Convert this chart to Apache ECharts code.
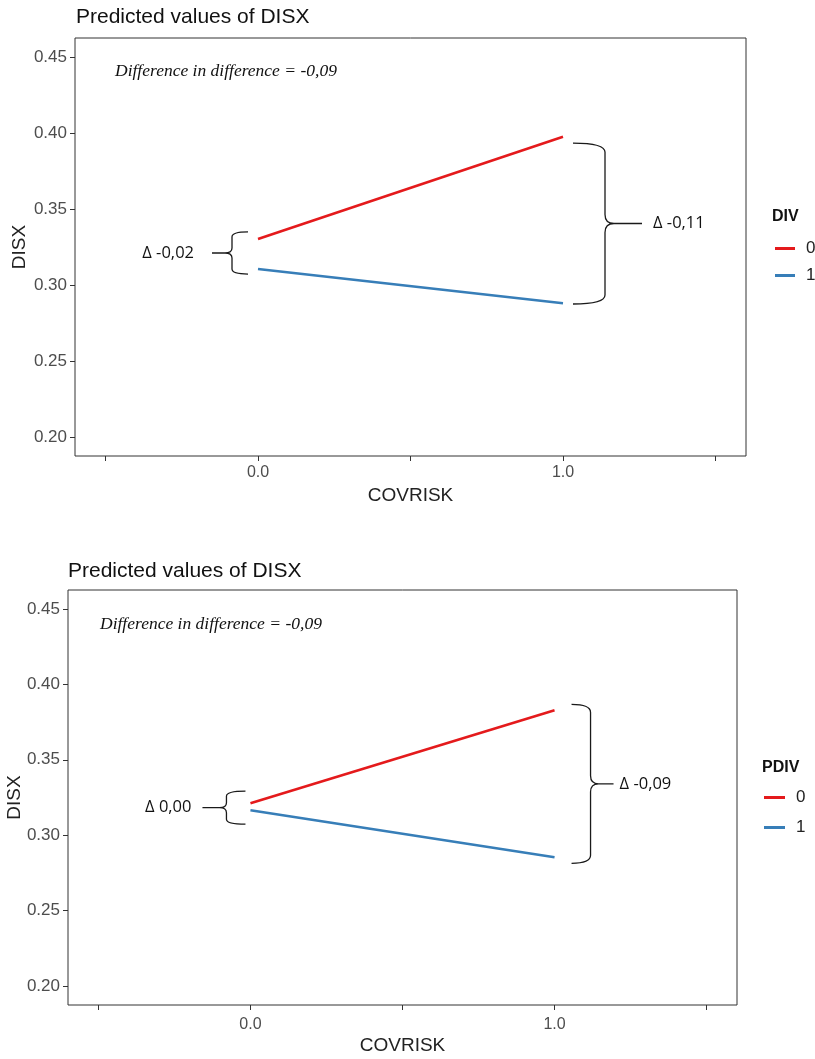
<!DOCTYPE html>
<html>
<head>
<meta charset="utf-8">
<script src="https://cdn.jsdelivr.net/npm/echarts@6/dist/echarts.min.js"></script>
<style>
html,body{margin:0;padding:0;background:#fff;}
#chart{width:815px;height:1059px;}
</style>
</head>
<body>
<div id="chart"></div>
<script>
// ---- data ----
const covrisk = [0, 1];
// top panel (DIV)
const div0 = [0.3302, 0.3975];
const div1 = [0.3105, 0.2880];
// bottom panel (PDIV)
const pdiv0 = [0.3212, 0.3828];
const pdiv1 = [0.3166, 0.2854];
const yTicks = [0.20, 0.25, 0.30, 0.35, 0.40, 0.45];
const xTicks = [-0.5, 0, 0.5, 1, 1.5];
const xLabelValues = [0, 1];
const seriesNames = ['0', '1'];
const legendTitles = ['DIV', 'PDIV'];
const panelTitle = 'Predicted values of DISX';
const diffText = 'Difference in difference = -0,09';
// braces: x position, top value, bottom value, label
const topBraceX = [0, 1];
const topBraceTop = [0.3349, 0.3934];
const topBraceBottom = [0.3072, 0.2875];
const topBraceLabel = ['Δ -0,02', 'Δ -0,11'];
const botBraceX = [0, 1];
const botBraceTop = [0.3292, 0.3867];
const botBraceBottom = [0.3073, 0.2814];
const botBraceLabel = ['Δ 0,00', 'Δ -0,09'];

// ---- style / geometry (pixels) ----
const braceGeom = {
  top: [
    {dir: -1, end: 10, spine: 26, tip: 46, gap: 18, r: 5, c: 7},
    {dir: 1, end: 10, spine: 42, tip: 79, gap: 11, r: 9, c: 9}
  ],
  bot: [
    {dir: -1, end: 5, spine: 24, tip: 48, gap: 11, r: 5, c: 7},
    {dir: 1, end: 17, spine: 36, tip: 59, gap: 6, r: 8, c: 8}
  ]
};
const RED = '#E41A1C', BLUE = '#377EB8';
const SANS = "'Liberation Sans', Arial, sans-serif";
const grids = [
  {left: 75, top: 38, width: 671, height: 418},
  {left: 68, top: 590, width: 669, height: 415}
];

function pairs(xs, ys) { return xs.map((x, i) => [x, ys[i]]); }
function braceData(xs, tops, bots) { return xs.map((x, i) => [x, tops[i], bots[i]]); }

function makeBraceRender(key, labels) {
  return function (params, api) {
    const g = braceGeom[key][params.dataIndex];
    const p1 = api.coord([api.value(0), api.value(1)]);
    const p2 = api.coord([api.value(0), api.value(2)]);
    const d = g.dir;
    const x0 = p1[0];
    const xe = x0 + d * g.end, xv = x0 + d * g.spine, xt = x0 + d * g.tip;
    const yt = p1[1], yb = p2[1], ym = (yt + yb) / 2;
    const r = g.r, c = g.c;
    const path =
      'M' + xe + ',' + yt +
      ' Q' + xv + ',' + yt + ' ' + xv + ',' + (yt + r) +
      ' L' + xv + ',' + (ym - r) +
      ' Q' + xv + ',' + ym + ' ' + (xv + d * c) + ',' + ym +
      ' L' + xt + ',' + ym +
      ' M' + (xv + d * c) + ',' + ym +
      ' Q' + xv + ',' + ym + ' ' + xv + ',' + (ym + r) +
      ' L' + xv + ',' + (yb - r) +
      ' Q' + xv + ',' + yb + ' ' + xe + ',' + yb;
    return {
      type: 'group',
      children: [
        {type: 'path', shape: {pathData: path},
         style: {stroke: '#1a1a1a', fill: null, lineWidth: 1.3}},
        {type: 'text', x: xt + d * g.gap, y: ym,
         style: {text: labels[params.dataIndex], align: d < 0 ? 'right' : 'left',
                 verticalAlign: 'middle', fill: '#111',
                 font: "16.5px 'Open Sans', sans-serif"}}
      ]
    };
  };
}

function xAxis(gi, labelMargin, nameGap) {
  return {
    type: 'value', gridIndex: gi, min: -0.6, max: 1.6,
    name: 'COVRISK', nameLocation: 'middle', nameGap: nameGap, nameMoveOverlap: false,
    nameTextStyle: {fontSize: 19, color: '#222', fontFamily: SANS},
    axisLine: {show: false, onZero: false},
    splitLine: {show: false},
    axisTick: {show: true, customValues: xTicks, length: 5, lineStyle: {color: '#333'}},
    axisLabel: {customValues: xLabelValues, margin: labelMargin, fontSize: 16, color: '#4d4d4d',
                fontFamily: SANS, formatter: v => v.toFixed(1)}
  };
}
function yAxis(gi, gap) {
  return {
    type: 'value', gridIndex: gi, min: 0.1875, max: 0.4625,
    name: 'DISX', nameLocation: 'middle', nameGap: gap, nameRotate: 90, nameMoveOverlap: false,
    nameTextStyle: {fontSize: 19, color: '#222', fontFamily: SANS},
    axisLine: {show: false, onZero: false},
    splitLine: {show: false},
    axisTick: {show: true, customValues: yTicks, length: 5, lineStyle: {color: '#333'}},
    axisLabel: {customValues: yTicks, margin: 8, fontSize: 17, color: '#4d4d4d',
                fontFamily: SANS, formatter: v => v.toFixed(2)}
  };
}
function lineSeries(name, gi, ys, color) {
  return {
    type: 'line', name: name, xAxisIndex: gi, yAxisIndex: gi,
    data: pairs(covrisk, ys), showSymbol: false, symbol: 'none',
    lineStyle: {color: color, width: 2.6}, itemStyle: {color: color},
    emphasis: {disabled: true}, silent: true, animation: false
  };
}

const option = {
  animation: false,
  backgroundColor: '#fff',
  grid: grids.map(g => Object.assign({show: true, borderColor: '#333', borderWidth: 1,
                                      backgroundColor: '#fff', containLabel: false,
                                      outerBoundsMode: 'none'}, g)),
  title: [
    {text: panelTitle, left: 76, top: 7, padding: 0,
     textStyle: {fontSize: 21, fontWeight: 'normal', color: '#111', fontFamily: SANS}},
    {text: panelTitle, left: 68, top: 561, padding: 0,
     textStyle: {fontSize: 21, fontWeight: 'normal', color: '#111', fontFamily: SANS}}
  ],
  legend: [
    {data: seriesNames, orient: 'vertical', left: 775, top: 240, padding: 0,
     icon: 'rect', itemWidth: 20, itemHeight: 3, itemGap: 10,
     textStyle: {fontSize: 17, color: '#222', fontFamily: SANS, padding: [0, 0, 0, 6]},
     selectedMode: false},
    {data: seriesNames, orient: 'vertical', left: 764, top: 789, padding: 0,
     icon: 'rect', itemWidth: 21, itemHeight: 3, itemGap: 13,
     textStyle: {fontSize: 17, color: '#222', fontFamily: SANS, padding: [0, 0, 0, 6]},
     selectedMode: false}
  ],
  graphic: [
    {type: 'text', left: 772, top: 209,
     style: {text: legendTitles[0], font: "bold 16px 'Liberation Sans', sans-serif", fill: '#111'}},
    {type: 'text', left: 762, top: 760,
     style: {text: legendTitles[1], font: "bold 16px 'Liberation Sans', sans-serif", fill: '#111'}},
    {type: 'text', left: 115, top: 62,
     style: {text: diffText, font: "italic 17.5px 'Liberation Serif', serif", fill: '#111'}},
    {type: 'text', left: 100, top: 615,
     style: {text: diffText, font: "italic 17.5px 'Liberation Serif', serif", fill: '#111'}}
  ],
  xAxis: [xAxis(0, 9, 30), xAxis(1, 12, 31)],
  yAxis: [yAxis(0, 46), yAxis(1, 44)],
  series: [
    lineSeries(seriesNames[0], 0, div0, RED),
    lineSeries(seriesNames[1], 0, div1, BLUE),
    lineSeries(seriesNames[0], 1, pdiv0, RED),
    lineSeries(seriesNames[1], 1, pdiv1, BLUE),
    {type: 'custom', xAxisIndex: 0, yAxisIndex: 0, silent: true, clip: false,
     data: braceData(topBraceX, topBraceTop, topBraceBottom),
     renderItem: makeBraceRender('top', topBraceLabel)},
    {type: 'custom', xAxisIndex: 1, yAxisIndex: 1, silent: true, clip: false,
     data: braceData(botBraceX, botBraceTop, botBraceBottom),
     renderItem: makeBraceRender('bot', botBraceLabel)}
  ]
};
const chart = echarts.init(document.getElementById('chart'), null, {renderer: 'canvas'});
chart.setOption(option);
</script>
</body>
</html>
